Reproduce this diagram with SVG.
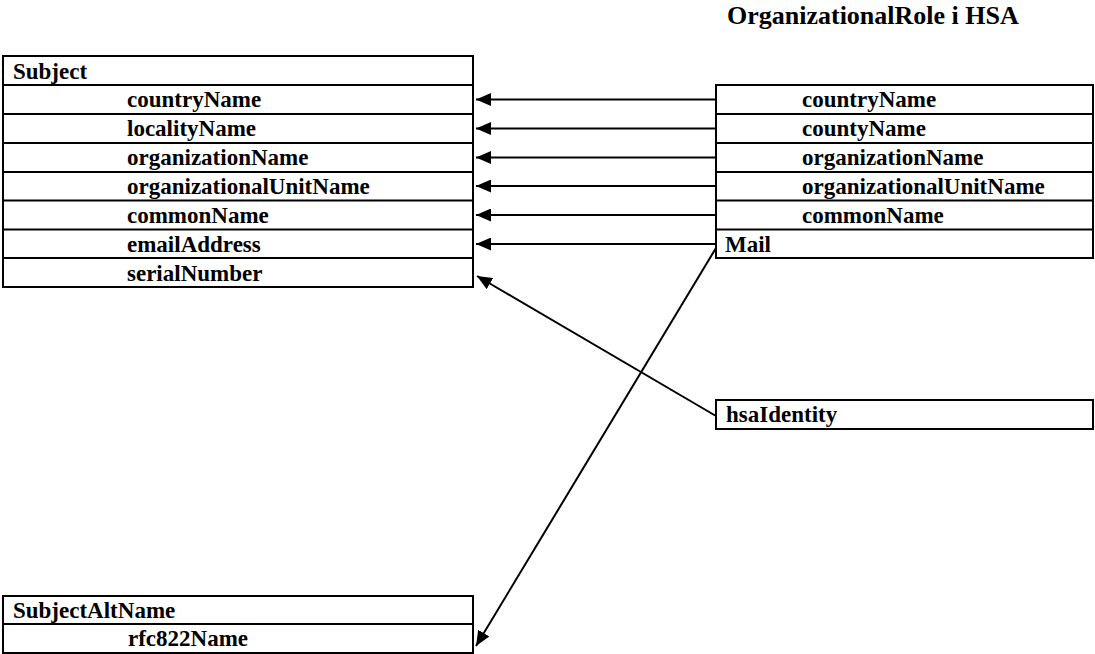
<svg xmlns="http://www.w3.org/2000/svg" width="1095" height="654" viewBox="0 0 1095 654">
<style>
  .box { fill: #fff; stroke: #000; stroke-width: 2; }
  .sep { stroke: #000; stroke-width: 2; }
  text { font-family: "Liberation Serif", "Times New Roman", serif; font-weight: bold; font-size: 23px; fill: #000; }
  .title { font-size: 26px; }
  .conn { stroke: #000; stroke-width: 2; fill: none; marker-end: url(#arrow); }
</style>
<defs>
  <marker id="arrow" markerUnits="userSpaceOnUse" markerWidth="16" markerHeight="13" refX="15" refY="6.5" orient="auto">
    <path d="M0,0 L15,6.5 L0,13 Z" fill="#000"/>
  </marker>
</defs>
<rect width="1095" height="654" fill="#fff"/>
<text class="title" x="727" y="24">OrganizationalRole i HSA</text>

<g id="subject">
  <rect class="box" x="3" y="56" width="470" height="231"/>
  <line class="sep" x1="3" y1="85" x2="473" y2="85"/>
  <line class="sep" x1="3" y1="114" x2="473" y2="114"/>
  <line class="sep" x1="3" y1="143" x2="473" y2="143"/>
  <line class="sep" x1="3" y1="172" x2="473" y2="172"/>
  <line class="sep" x1="3" y1="200.5" x2="473" y2="200.5"/>
  <line class="sep" x1="3" y1="229.5" x2="473" y2="229.5"/>
  <line class="sep" x1="3" y1="258" x2="473" y2="258"/>
  <text x="13" y="79">Subject</text>
  <text x="127" y="107">countryName</text>
  <text x="127" y="136">localityName</text>
  <text x="127" y="165">organizationName</text>
  <text x="127" y="194">organizationalUnitName</text>
  <text x="127" y="223">commonName</text>
  <text x="127" y="252">emailAddress</text>
  <text x="127" y="281">serialNumber</text>
</g>

<g id="hsa-role">
  <rect class="box" x="716" y="85" width="377" height="173"/>
  <line class="sep" x1="716" y1="114" x2="1093" y2="114"/>
  <line class="sep" x1="716" y1="143" x2="1093" y2="143"/>
  <line class="sep" x1="716" y1="172" x2="1093" y2="172"/>
  <line class="sep" x1="716" y1="200.5" x2="1093" y2="200.5"/>
  <line class="sep" x1="716" y1="229.5" x2="1093" y2="229.5"/>
  <text x="802" y="107">countryName</text>
  <text x="802" y="136">countyName</text>
  <text x="802" y="165">organizationName</text>
  <text x="802" y="194">organizationalUnitName</text>
  <text x="802" y="223">commonName</text>
  <text x="725" y="252">Mail</text>
</g>

<g id="hsaIdentity">
  <rect class="box" x="716" y="400" width="377" height="29"/>
  <text x="726" y="422">hsaIdentity</text>
</g>

<g id="subjectAltName">
  <rect class="box" x="3" y="596" width="470" height="57"/>
  <line class="sep" x1="3" y1="624" x2="473" y2="624"/>
  <text x="13" y="618">SubjectAltName</text>
  <text x="128" y="646">rfc822Name</text>
</g>

<g id="connectors">
  <line class="conn" x1="716" y1="99.5" x2="476" y2="99.5"/>
  <line class="conn" x1="716" y1="128.5" x2="476" y2="128.5"/>
  <line class="conn" x1="716" y1="157.5" x2="476" y2="157.5"/>
  <line class="conn" x1="716" y1="186" x2="476" y2="186"/>
  <line class="conn" x1="716" y1="215" x2="476" y2="215"/>
  <line class="conn" x1="716" y1="244" x2="476" y2="244"/>
  <line class="conn" x1="716" y1="416" x2="477" y2="276"/>
  <line class="conn" x1="716" y1="248" x2="476" y2="646"/>
</g>
</svg>
